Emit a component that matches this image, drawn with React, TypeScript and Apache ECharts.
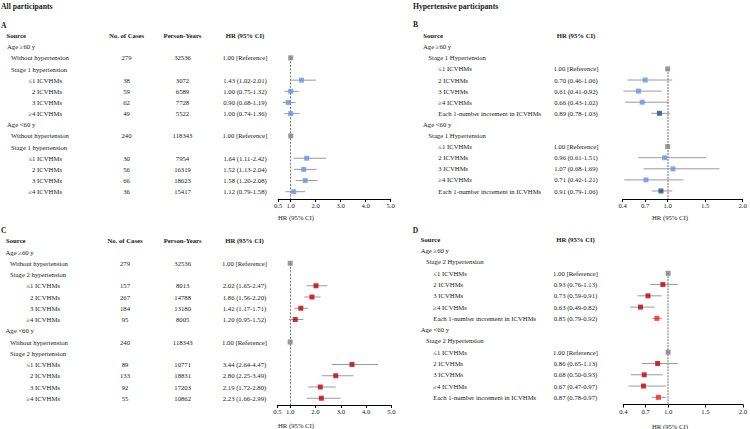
import React, { useEffect, useRef } from "react";
import * as echarts from "echarts";

const FONT = '"Liberation Serif", "DejaVu Serif", serif';

// ---------- Panel A: All participants, stage 1 ----------
const aLabels = ["Age ≥60 y", "Without hypertension", "Stage 1 hypertension", "≤1 ICVHMs", "2 ICVHMs", "3 ICVHMs", "≥4 ICVHMs", "Age <60 y", "Without hypertension", "Stage 1 hypertension", "≤1 ICVHMs", "2 ICVHMs", "3 ICVHMs", "≥4 ICVHMs"];
const aLevels = [0, 1, 1, 2, 2, 2, 2, 0, 1, 1, 2, 2, 2, 2];
const aKinds = ["h", "r", "h", "c", "c", "c", "c", "h", "r", "h", "c", "c", "c", "c"];
const aCases = ["", "279", "", "38", "59", "62", "49", "", "240", "", "30", "56", "66", "36"];
const aPersonYears = ["", "32536", "", "3072", "6589", "7728", "5522", "", "118343", "", "7954", "16319", "18623", "15417"];
const aHR = [null, 1.0, null, 1.43, 1.0, 0.9, 1.0, null, 1.0, null, 1.64, 1.52, 1.58, 1.12];
const aLow = [null, null, null, 1.02, 0.75, 0.68, 0.74, null, null, null, 1.11, 1.13, 1.2, 0.79];
const aHigh = [null, null, null, 2.01, 1.32, 1.19, 1.36, null, null, null, 2.42, 2.04, 2.08, 1.58];
const aTicks = [0.5, 1.0, 2.0, 3.0, 4.0, 5.0];

// ---------- Panel B: Hypertensive participants, stage 1 ----------
const bLabels = ["Age ≥60 y", "Stage 1 Hypertension", "≤1 ICVHMs", "2 ICVHMs", "3 ICVHMs", "≥4 ICVHMs", "Each 1-number increment in ICVHMs", "Age <60 y", "Stage 1 Hypertension", "≤1 ICVHMs", "2 ICVHMs", "3 ICVHMs", "≥4 ICVHMs", "Each 1-number increment in ICVHMs"];
const bLevels = [0, 1, 2, 2, 2, 2, 2, 0, 1, 2, 2, 2, 2, 2];
const bKinds = ["h", "h", "r", "c", "c", "c", "t", "h", "h", "r", "c", "c", "c", "t"];
const bHR = [null, null, 1.0, 0.7, 0.61, 0.66, 0.89, null, null, 1.0, 0.96, 1.07, 0.71, 0.91];
const bLow = [null, null, null, 0.46, 0.41, 0.43, 0.78, null, null, null, 0.61, 0.68, 0.42, 0.79];
const bHigh = [null, null, null, 1.06, 0.92, 1.02, 1.03, null, null, null, 1.51, 1.69, 1.21, 1.06];
const bTicks = [0.4, 0.7, 1.0, 1.5, 2.0];

// ---------- Panel C: All participants, stage 2 ----------
const cLabels = ["Age ≥60 y", "Without hypertension", "Stage 2 hypertension", "≤1 ICVHMs", "2 ICVHMs", "3 ICVHMs", "≥4 ICVHMs", "Age <60 y", "Without hypertension", "Stage 2 hypertension", "≤1 ICVHMs", "2 ICVHMs", "3 ICVHMs", "≥4 ICVHMs"];
const cLevels = [0, 1, 1, 2, 2, 2, 2, 0, 1, 1, 2, 2, 2, 2];
const cKinds = ["h", "r", "h", "c", "c", "c", "c", "h", "r", "h", "c", "c", "c", "c"];
const cCases = ["", "279", "", "157", "267", "184", "95", "", "240", "", "89", "133", "92", "55"];
const cPersonYears = ["", "32536", "", "8013", "14788", "13180", "8005", "", "118343", "", "10771", "18831", "17203", "10862"];
const cHR = [null, 1.0, null, 2.02, 1.86, 1.42, 1.2, null, 1.0, null, 3.44, 2.8, 2.19, 2.23];
const cLow = [null, null, null, 1.65, 1.56, 1.17, 0.95, null, null, null, 2.64, 2.25, 1.72, 1.66];
const cHigh = [null, null, null, 2.47, 2.2, 1.71, 1.52, null, null, null, 4.47, 3.49, 2.8, 2.99];
const cTicks = [0.5, 1.0, 2.0, 3.0, 4.0, 5.0];

// ---------- Panel D: Hypertensive participants, stage 2 ----------
const dLabels = ["Age ≥60 y", "Stage 2 Hypertension", "≤1 ICVHMs", "2 ICVHMs", "3 ICVHMs", "≥4 ICVHMs", "Each 1-number increment in ICVHMs", "Age <60 y", "Stage 2 Hypertension", "≤1 ICVHMs", "2 ICVHMs", "3 ICVHMs", "≥4 ICVHMs", "Each 1-number increment in ICVHMs"];
const dLevels = [0, 1, 2, 2, 2, 2, 2, 0, 1, 2, 2, 2, 2, 2];
const dKinds = ["h", "h", "r", "c", "c", "c", "t", "h", "h", "r", "c", "c", "c", "t"];
const dHR = [null, null, 1.0, 0.93, 0.73, 0.63, 0.85, null, null, 1.0, 0.86, 0.68, 0.67, 0.87];
const dLow = [null, null, null, 0.76, 0.59, 0.49, 0.79, null, null, null, 0.65, 0.5, 0.47, 0.78];
const dHigh = [null, null, null, 1.13, 0.91, 0.82, 0.92, null, null, null, 1.13, 0.93, 0.97, 0.97];
const dTicks = [0.4, 0.7, 1.0, 1.5, 2.0];

type Panel = {
  labels: string[]; levels: number[]; kinds: string[];
  cases?: string[]; personYears?: string[];
  hr: (number | null)[]; low: (number | null)[]; high: (number | null)[];
  ticks: number[];
  // layout
  left: number; width: number; rowTop: number; rowStep: number; axisY: number;
  levelX: number[]; levelAlign: string[]; sourceX: number;
  casesX?: number; pyX?: number; hrX: number;
  catColor: string; trendColor: string;
  refLine: { color: string; width: number; dash: number[] };
};

const panels: Panel[] = [
  {
    labels: aLabels, levels: aLevels, kinds: aKinds, cases: aCases, personYears: aPersonYears,
    hr: aHR, low: aLow, high: aHigh, ticks: aTicks,
    left: 278.2, width: 112.5, rowTop: 46.7, rowStep: 11.154, axisY: 199,
    levelX: [7, 11, 62], levelAlign: ["left", "left", "right"], sourceX: 6.5,
    casesX: 126.5, pyX: 182.5, hrX: 245,
    catColor: "#6495ED", trendColor: "#1F4E8C",
    refLine: { color: "#555555", width: 0.8, dash: [2, 1.5] },
  },
  {
    labels: bLabels, levels: bLevels, kinds: bKinds,
    hr: bHR, low: bLow, high: bHigh, ticks: bTicks,
    left: 622.7, width: 120, rowTop: 46.7, rowStep: 11.1, axisY: 199,
    levelX: [423, 428.3, 438.3], levelAlign: ["left", "left", "left"], sourceX: 423.3,
    hrX: 576,
    catColor: "#6495ED", trendColor: "#1F4E8C",
    refLine: { color: "#b8b8b8", width: 2, dash: [2, 1] },
  },
  {
    labels: cLabels, levels: cLevels, kinds: cKinds, cases: cCases, personYears: cPersonYears,
    hr: cHR, low: cLow, high: cHigh, ticks: cTicks,
    left: 277.5, width: 114, rowTop: 252, rowStep: 11.25, axisY: 405,
    levelX: [5.5, 10, 60], levelAlign: ["left", "left", "right"], sourceX: 6,
    casesX: 125, pyX: 182.7, hrX: 244.5,
    catColor: "#C00000", trendColor: "#C00000",
    refLine: { color: "#555555", width: 0.8, dash: [2, 1.5] },
  },
  {
    labels: dLabels, levels: dLevels, kinds: dKinds,
    hr: dHR, low: dLow, high: dHigh, ticks: dTicks,
    left: 623.3, width: 122, rowTop: 250.7, rowStep: 11.28, axisY: 404.5,
    levelX: [420.7, 426, 433.3], levelAlign: ["left", "left", "left"], sourceX: 420.7,
    hrX: 575.5,
    catColor: "#C00000", trendColor: "#FF1A1A",
    refLine: { color: "#b8b8b8", width: 2, dash: [2, 1] },
  },
];

const FS = 6.7;
const TXT = "#1a1a1a";

function hrText(p: Panel, i: number) {
  if (p.kinds[i] === "r") return "1.00 [Reference]";
  const v = p.hr[i], lo = p.low[i], hi = p.high[i];
  if (v == null || lo == null || hi == null) return "";
  return `${v.toFixed(2)} (${lo.toFixed(2)}-${hi.toFixed(2)})`;
}

function txt(x: number, y: number, text: string, align: string, bold = false, size = FS) {
  return {
    type: "text",
    x, y,
    style: {
      text,
      fill: TXT,
      font: `${bold ? "bold " : ""}${size}px ${FONT}`,
      textAlign: align, align,
      textVerticalAlign: "middle", verticalAlign: "middle",
    },
  };
}

function buildOption() {
  const grid: any[] = [], xAxis: any[] = [], yAxis: any[] = [], series: any[] = [];
  panels.forEach((p, g) => {
    const top = p.rowTop - 0.5 * p.rowStep;
    const yMax = (p.axisY - p.rowTop) / p.rowStep;
    const xMin = p.ticks[0], xMax = p.ticks[p.ticks.length - 1];
    grid.push({ left: p.left, top, width: p.width, height: p.axisY - top, containLabel: false });
    xAxis.push({
      gridIndex: g, type: "value", min: xMin, max: xMax,
      axisLine: { show: true, onZero: false, lineStyle: { color: "#000", width: 1 } },
      axisTick: { show: true, length: 3, customValues: p.ticks, lineStyle: { color: "#000", width: 1 } },
      axisLabel: {
        customValues: p.ticks, formatter: (v: number) => v.toFixed(1),
        fontFamily: FONT, fontSize: FS, color: TXT, margin: 3,
      },
      splitLine: { show: false },
    });
    yAxis.push({ gridIndex: g, type: "value", inverse: true, min: -0.5, max: yMax, show: false });

    const refRow = p.kinds.indexOf("r");

    // table text
    const rows = [-1, ...p.labels.map((_, i) => i)];
    series.push({
      type: "custom", xAxisIndex: g, yAxisIndex: g, clip: false, silent: true, z: 5,
      data: rows.map((r) => [xMin, r]),
      renderItem: (params: any, api: any) => {
        const r = api.value(1);
        const y = api.coord([xMin, r])[1];
        const els: any[] = [];
        if (r < 0) {
          els.push(txt(p.sourceX, y, "Source", "left", true));
          if (p.casesX != null) els.push(txt(p.casesX, y, "No. of Cases", "center", true));
          if (p.pyX != null) els.push(txt(p.pyX, y, "Person-Years", "center", true));
          els.push(txt(p.hrX, y, "HR (95% CI)", "center", true));
        } else {
          const lv = p.levels[r];
          els.push(txt(p.levelX[lv], y, p.labels[r], p.levelAlign[lv]));
          if (p.cases && p.cases[r]) els.push(txt(p.casesX as number, y, p.cases[r], "center"));
          if (p.personYears && p.personYears[r]) els.push(txt(p.pyX as number, y, p.personYears[r], "center"));
          const h = hrText(p, r);
          if (h) els.push(txt(p.hrX, y, h, "center"));
        }
        return { type: "group", children: els };
      },
    });

    // error bars
    const ciData: any[] = [];
    p.labels.forEach((_, i) => {
      const lo = p.low[i], hi = p.high[i];
      if (lo != null && hi != null) ciData.push([lo, hi, i]);
    });
    series.push({
      type: "custom", xAxisIndex: g, yAxisIndex: g, clip: false, silent: true, z: 2,
      encode: { x: [0, 1], y: 2 },
      data: ciData,
      renderItem: (params: any, api: any) => {
        const s = api.coord([api.value(0), api.value(2)]);
        const e = api.coord([api.value(1), api.value(2)]);
        return {
          type: "line",
          shape: { x1: s[0], y1: s[1], x2: e[0], y2: e[1] },
          style: { stroke: "#9a9a9a", lineWidth: 1 },
        };
      },
    });

    // squares
    const pts: any[] = [];
    p.labels.forEach((_, i) => {
      const v = p.hr[i];
      if (v == null) return;
      const k = p.kinds[i];
      const color = k === "r" ? "#808080" : k === "t" ? p.trendColor : p.catColor;
      pts.push({ value: [v, i], itemStyle: { color } });
    });
    series.push({
      type: "scatter", xAxisIndex: g, yAxisIndex: g, symbol: "rect", symbolSize: 5, z: 3, silent: true,
      data: pts,
      markLine: {
        silent: true, symbol: "none", z: 1, label: { show: false },
        lineStyle: { color: p.refLine.color, width: p.refLine.width, type: p.refLine.dash },
        data: [[{ coord: [1, refRow] }, { coord: [1, yMax] }]],
      },
    });
  });

  const graphic: any[] = [
    txt(1, 6, "All participants", "left", true, 7.7),
    txt(413, 6, "Hypertensive participants", "left", true, 7.7),
    txt(1, 25, "A", "left", true, 7.5),
    txt(413, 24.5, "B", "left", true, 7.5),
    txt(1, 230.7, "C", "left", true, 7.5),
    txt(412.7, 230.7, "D", "left", true, 7.5),
    txt(278, 217, "HR (95% CI)", "left"),
    txt(278, 425, "HR (95% CI)", "left"),
    txt(670, 217, "HR (95% CI)", "center"),
    txt(670, 426, "HR (95% CI)", "center"),
  ];

  return { animation: false, backgroundColor: "#ffffff", grid, xAxis, yAxis, series, graphic };
}

export default function App() {
  const ref = useRef<HTMLDivElement>(null);
  useEffect(() => {
    document.body.style.margin = "0";
    if (!ref.current) return;
    const chart = echarts.init(ref.current, undefined, { renderer: "svg" });
    chart.setOption(buildOption() as any);
    return () => chart.dispose();
  }, []);
  return <div ref={ref} style={{ width: 750, height: 429 }} />;
}
